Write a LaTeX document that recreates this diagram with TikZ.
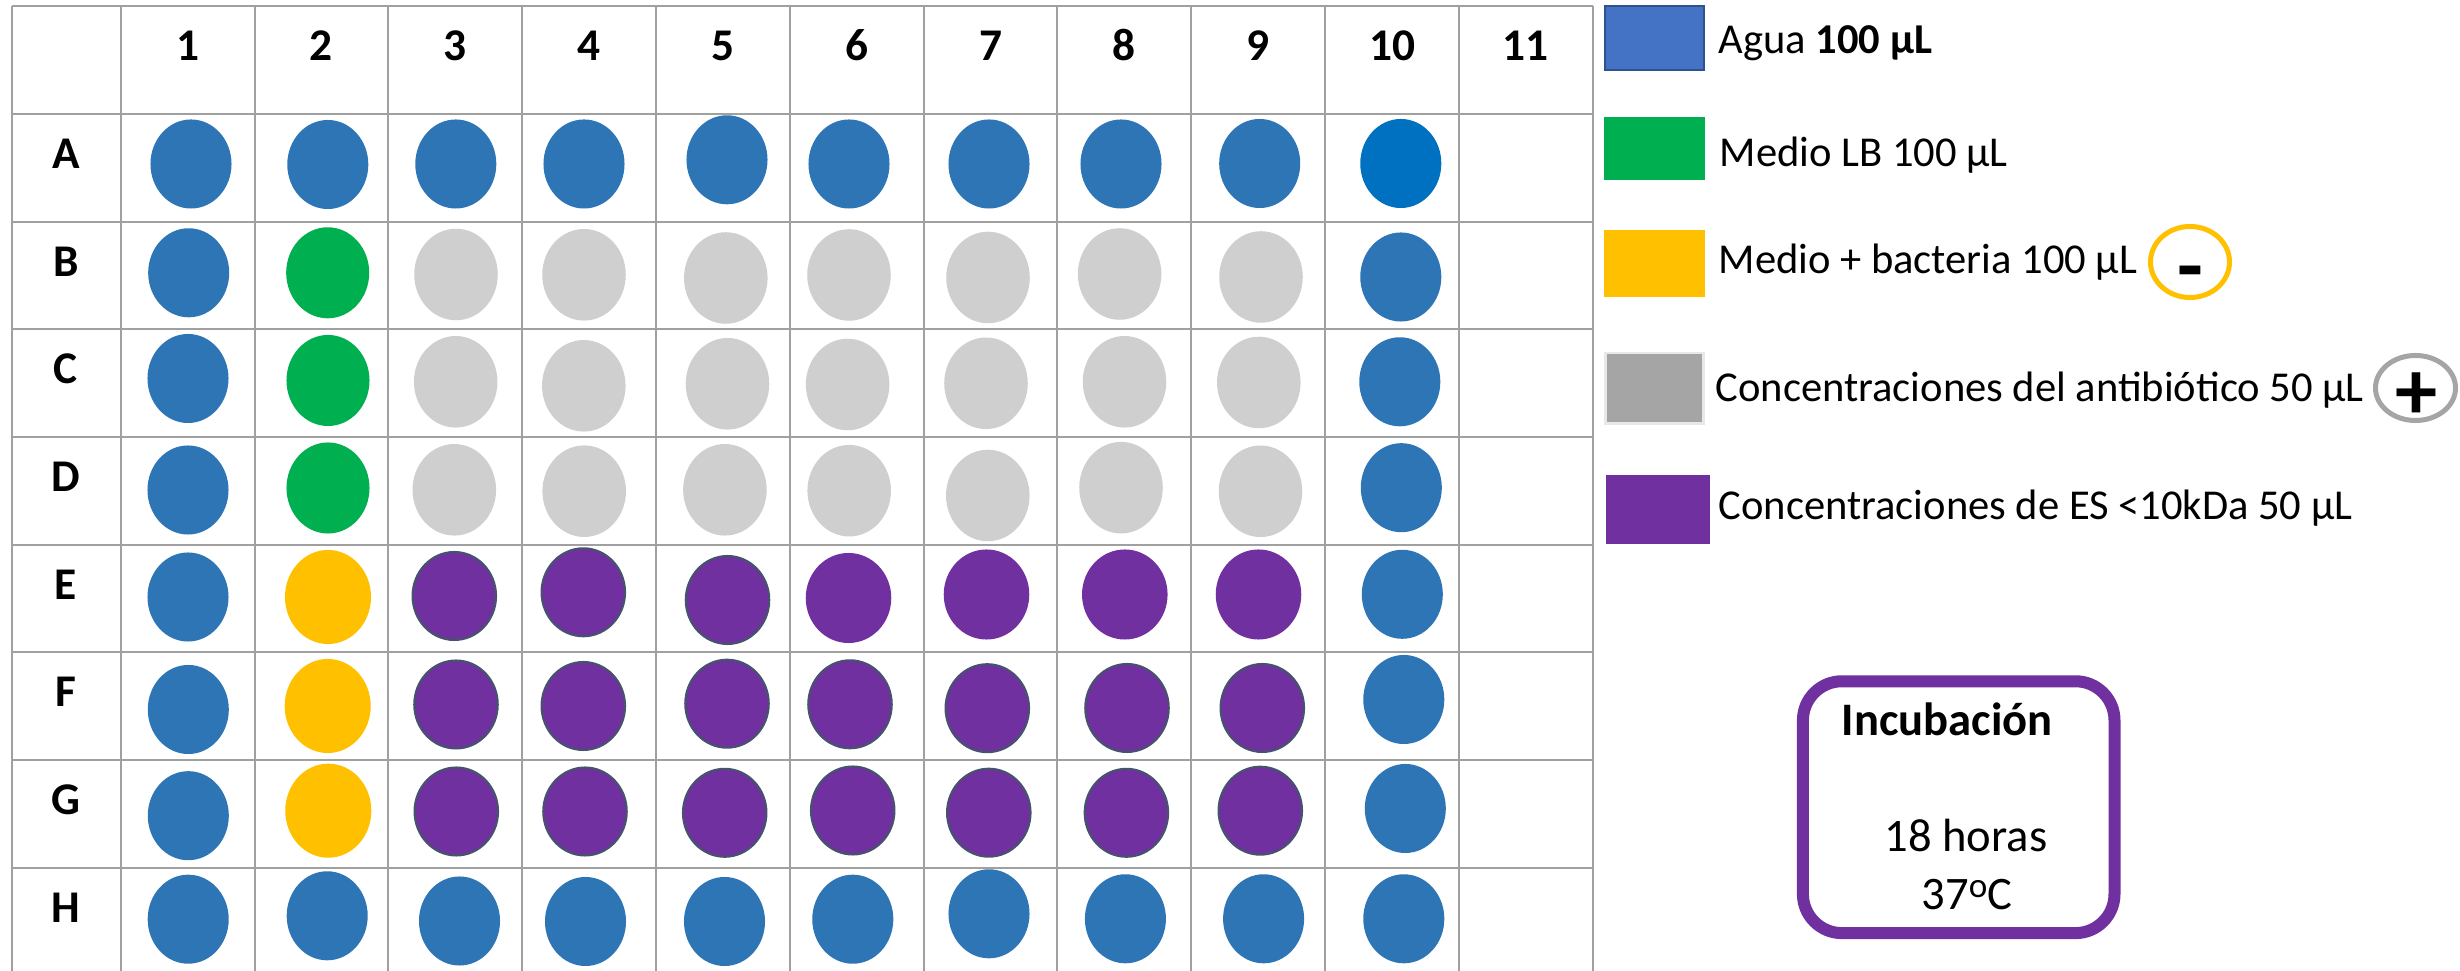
\documentclass[tikz,border=0pt]{standalone}
\usepackage{fontspec}
\setmainfont{Carlito}
\usepackage{graphicx}
\usetikzlibrary{shapes.geometric}
\definecolor{wblue}{HTML}{2E75B6}
\definecolor{wblueA}{HTML}{0070C0}
\definecolor{wgreen}{HTML}{00B050}
\definecolor{wyellow}{HTML}{FFC000}
\definecolor{wgray}{HTML}{CFCFCF}
\definecolor{wpurple}{HTML}{7030A0}
\definecolor{woutline}{HTML}{44546A}
\definecolor{gridgray}{HTML}{A0A0A0}
\definecolor{lgblue}{HTML}{4472C4}
\definecolor{lgblueb}{HTML}{2F528F}
\definecolor{lggray}{HTML}{A5A5A5}
\definecolor{lggrayb}{HTML}{E8E8E8}
\begin{document}
\begin{tikzpicture}[x=0.01cm,y=-0.01cm,
  gridline/.style={draw=gridgray, line width=0.02cm},
  hdr/.style={anchor=base, inner sep=0, font=\fontsize{12.9pt}{15pt}\selectfont\bfseries},
  well/.style={ellipse, inner sep=0, outer sep=0, draw=none},
  bw/.style={well, fill=wblue, minimum width=0.81cm, minimum height=0.89cm},
  bwA/.style={bw, fill=wblueA},
  gw/.style={well, fill=wgreen, minimum width=0.83cm, minimum height=0.91cm},
  yw/.style={well, fill=wyellow, minimum width=0.86cm, minimum height=0.94cm},
  sw/.style={well, fill=wgray, minimum width=0.835cm, minimum height=0.915cm},
  pw/.style={well, fill=wpurple, minimum width=0.855cm, minimum height=0.90cm},
  pwo/.style={well, fill=wpurple, draw=woutline, line width=0.02cm, minimum width=0.835cm, minimum height=0.88cm},
  legsq/.style={rectangle, inner sep=0, outer sep=0},
  legtxt/.style={anchor=base west, inner sep=0, font=\fontsize{12.1pt}{14.5pt}\selectfont},
  ring/.style={ellipse, inner sep=0, outer sep=0, line width=0.05cm},
  sign/.style={anchor=base, inner sep=0, font=\fontsize{24pt}{28pt}\selectfont\bfseries},
  incbox/.style={rectangle, draw=wpurple, line width=0.12cm, rounded corners=0.39cm, minimum width=3.114cm, minimum height=2.517cm, inner sep=0},
  inctxt/.style={anchor=base west, inner sep=0, font=\fontsize{13.25pt}{16pt}\selectfont}
]
\useasboundingbox (0,0) rectangle (2460,971);

% grid
\draw[gridline] (12,5.7) -- (1592.7,5.7);
\foreach \k in {0,...,7} \draw[gridline] (12,{114+107.67*\k}) -- (1592.7,{114+107.67*\k});
\draw[gridline] (12,5.7) -- (12,985);
\foreach \k in {0,...,11} \draw[gridline] ({120.7+133.82*\k},5.7) -- ({120.7+133.82*\k},985);

% headers
\foreach \c in {1,...,11} \node[hdr] (h\c) at ({120.7+133.82*(\c-0.5)},61) {\c};
\foreach \r [count=\i from 0] in {A,B,C,D,E,F,G,H} \node[hdr] (r\r) at (66,{114+107.67*\i+54.5}) {\r};

% row A
\node[bw] (A1) at (191,164) {};
\node[bw] (A2) at (327.8,164.5) {};
\node[bw] (A3) at (455.8,164) {};
\node[bw] (A4) at (584,164) {};
\node[bw] (A5) at (727,159.8) {};
\node[bw] (A6) at (849,164) {};
\node[bw] (A7) at (989,164) {};
\node[bw] (A8) at (1121,164) {};
\node[bw] (A9) at (1259.7,163.5) {};
\node[bwA] (A10) at (1400.8,163.5) {};
% row B
\node[bw] (B1) at (188.7,272.8) {};
\node[gw] (B2) at (327.7,272.8) {};
\node[sw] (B3) at (456,274.5) {};
\node[sw] (B4) at (584,274.8) {};
\node[sw] (B5) at (725.8,278) {};
\node[sw] (B6) at (849,275) {};
\node[sw] (B7) at (988,277.5) {};
\node[sw] (B8) at (1119.6,274) {};
\node[sw] (B9) at (1261,277) {};
\node[bw] (B10) at (1400.8,277) {};
% row C
\node[bw] (C1) at (188,378.5) {};
\node[gw] (C2) at (328,380.5) {};
\node[sw] (C3) at (455.7,381.8) {};
\node[sw] (C4) at (583.8,385.8) {};
\node[sw] (C5) at (727.5,383.8) {};
\node[sw] (C6) at (847.6,384.5) {};
\node[sw] (C7) at (986,383.3) {};
\node[sw] (C8) at (1124.5,381.8) {};
\node[sw] (C9) at (1258.8,382.5) {};
\node[bw] (C10) at (1399.8,381.8) {};
% row D
\node[bw] (D1) at (188,490) {};
\node[gw] (D2) at (328,488) {};
\node[sw] (D3) at (454.3,489.8) {};
\node[sw] (D4) at (584.2,491.2) {};
\node[sw] (D5) at (724.9,489.8) {};
\node[sw] (D6) at (849.2,490.7) {};
\node[sw] (D7) at (987.8,495.5) {};
\node[sw] (D8) at (1121,487.7) {};
\node[sw] (D9) at (1260.5,491.3) {};
\node[bw] (D10) at (1401.3,487.7) {};
% row E
\node[bw] (E1) at (188,597) {};
\node[yw] (E2) at (328,597) {};
\node[pwo] (E3) at (454.3,596) {};
\node[pwo] (E4) at (583.3,592.3) {};
\node[pwo] (E5) at (727.5,600) {};
\node[pw] (E6) at (848.5,598) {};
\node[pw] (E7) at (986.5,594.5) {};
\node[pw] (E8) at (1124.8,594.5) {};
\node[pw] (E9) at (1258.5,594.5) {};
\node[bw] (E10) at (1402.3,594.3) {};
% row F
\node[bw] (F1) at (188.3,709.5) {};
\node[yw] (F2) at (327.7,706) {};
\node[pwo] (F3) at (456,704.5) {};
\node[pwo] (F4) at (583.3,706) {};
\node[pwo] (F5) at (727,703.7) {};
\node[pwo] (F6) at (850,704.3) {};
\node[pwo] (F7) at (987.3,708.2) {};
\node[pwo] (F8) at (1127,708) {};
\node[pwo] (F9) at (1262.3,708) {};
\node[bw] (F10) at (1403.8,699.5) {};
% row G
\node[bw] (G1) at (188.3,815.7) {};
\node[yw] (G2) at (328.3,810.7) {};
\node[pwo] (G3) at (456.3,811.5) {};
\node[pwo] (G4) at (585,811.5) {};
\node[pwo] (G5) at (724.7,812.8) {};
\node[pwo] (G6) at (852.7,810.5) {};
\node[pwo] (G7) at (988.8,812.7) {};
\node[pwo] (G8) at (1126.4,812.8) {};
\node[pwo] (G9) at (1260.3,810.7) {};
\node[bw] (G10) at (1405.3,808.5) {};
% row H
\node[bw] (H1) at (188.2,919.2) {};
\node[bw] (H2) at (327.2,915.8) {};
\node[bw] (H3) at (459.5,921) {};
\node[bw] (H4) at (585.5,921.5) {};
\node[bw] (H5) at (724.5,921.5) {};
\node[bw] (H6) at (852.8,919.2) {};
\node[bw] (H7) at (989,913.8) {};
\node[bw] (H8) at (1125.4,918.8) {};
\node[bw] (H9) at (1263.6,918.8) {};
\node[bw] (H10) at (1403.8,918.8) {};

% legend
\node[legsq, fill=lgblue, draw=lgblueb, line width=0.02cm, minimum width=0.984cm, minimum height=0.64cm] (lg1) at (1654.5,37.7) {};
\node[legsq, fill=wgreen, minimum width=1.01cm, minimum height=0.636cm] (lg2) at (1654.5,148.5) {};
\node[legsq, fill=wyellow, minimum width=1.01cm, minimum height=0.676cm] (lg3) at (1654.5,263.5) {};
\node[legsq, fill=lggray, draw=lggrayb, line width=0.026cm, minimum width=0.984cm, minimum height=0.707cm] (lg4) at (1654.5,388.3) {};
\node[legsq, fill=wpurple, minimum width=1.04cm, minimum height=0.69cm] (lg5) at (1658,509.5) {};

\node[legtxt] (t1) at (1718,53.3) {Agua \textbf{100 µL}};
\node[legtxt] (t2) at (1719,166.7) {Medio LB 100 µL};
\node[legtxt] (t3) at (1718,274) {Medio + bacteria 100 µL};
\node[legtxt] (t4) at (1715,401.7) {Concentraciones del antibiótico 50 µL};
\node[legtxt] (t5) at (1718,520) {Concentraciones de ES <10kDa 50 µL};

\node[ring, draw=wyellow, minimum width=0.79cm, minimum height=0.71cm] (neg) at (2190,262) {};
\node[sign] (negs) at (2190,294.8) {-};
\node[ring, draw=lggray, minimum width=0.80cm, minimum height=0.65cm] (pos) at (2415.5,388) {};
\node[sign] (poss) at (2416,419.9) {+};

% incubation box
\node[incbox] (inc) at (1958.7,807.2) {};
\node[inctxt, font=\fontsize{13.25pt}{16pt}\selectfont\bfseries] (inc1) at (1841,736) {Incubación};
\node[inctxt] (inc2) at (1884,851.7) {18 horas};
\node[inctxt] (inc3) at (1921,910) {37\raisebox{3.6pt}{\fontsize{10pt}{12pt}\selectfont o}C};
\end{tikzpicture}
\end{document}
